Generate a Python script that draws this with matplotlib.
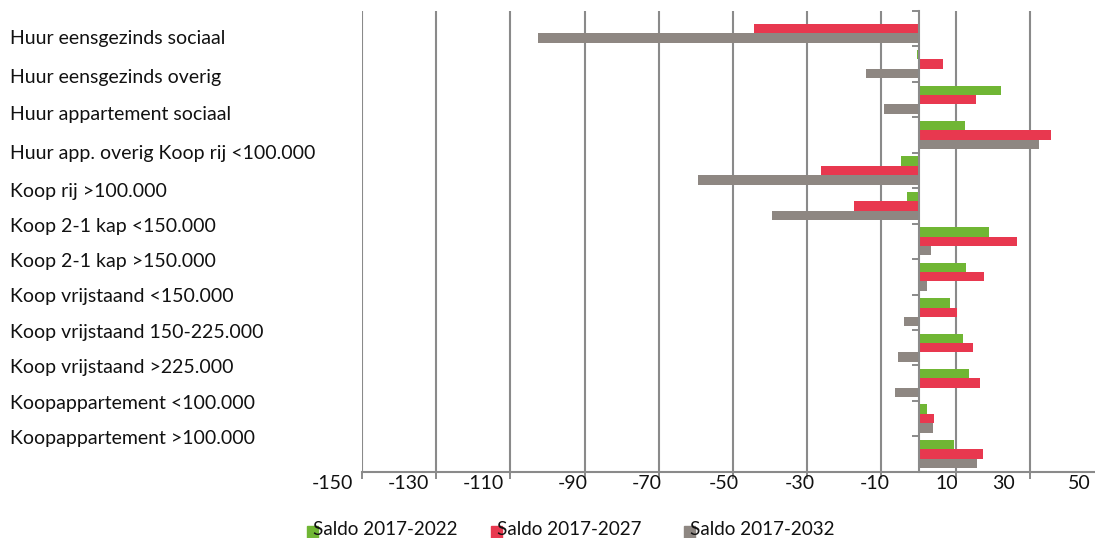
import numpy as np
import matplotlib.pyplot as plt
from matplotlib.transforms import blended_transform_factory
from matplotlib.patches import Rectangle

plt.rcParams['font.family'] = ['Lato', 'DejaVu Sans']

# 13 woningtypes (de labels in het origineel zijn 12 regels, één regel is samengevoegd)
labels = ["Huur eensgezinds sociaal", "Huur eensgezinds overig", "Huur appartement sociaal",
          "Huur app. overig Koop rij <100.000", "Koop rij >100.000", "Koop 2-1 kap <150.000",
          "Koop 2-1 kap >150.000", "Koop vrijstaand <150.000", "Koop vrijstaand 150-225.000",
          "Koop vrijstaand >225.000", "Koopappartement <100.000", "Koopappartement >100.000"]

saldo_2022 = [0.5, -0.3, 22.3, 12.6, -4.7, -3.0, 19.0, 12.7, 8.5, 12.0, 13.6, 2.4, 9.7]
saldo_2027 = [-44.4, 6.7, 15.4, 35.6, -26.4, -17.5, 26.5, 17.6, 10.5, 14.7, 16.7, 4.1, 17.3]
saldo_2032 = [-102.6, -14.1, -9.2, 32.4, -59.3, -39.5, 3.4, 2.3, -3.9, -5.5, -6.3, 3.9, 15.8]

series = ["Saldo 2017-2022", "Saldo 2017-2027", "Saldo 2017-2032"]
colors = ["#70B634", "#E8384F", "#8E8782"]
tick_vals = [-150, -130, -110, -90, -70, -50, -30, -10, 10, 30, 50]

# layout (positie van de tekst zoals in het origineel)
label_base = [0.92, 2.04, 3.08, 4.18, 5.24, 6.245, 7.23, 8.22, 9.23, 10.22, 11.23, 12.22]
tick_text_x = [-158, -137.6, -117.4, -93.3, -73.2, -52.6, -32, -11.9, 7.7, 22.8, 43.3]

W, H = 1095, 538
fig = plt.figure(figsize=(W / 100, H / 100), dpi=100)
x0, x1 = -150, 50
left_px, top_px, bot_px = 362, 11, 471.7
right_px = left_px + (x1 - x0) * 3.71
ax = fig.add_axes([left_px / W, 1 - bot_px / H, (right_px - left_px) / W, (bot_px - top_px) / H])

n = len(saldo_2022)
yc = np.arange(n) + 0.5
bh = 0.265
grid_c = "#8A8A8A"
for k, (vals, c) in enumerate(zip([saldo_2022, saldo_2027, saldo_2032], colors)):
    ax.barh(yc + (k - 1) * bh, vals, height=bh, color=c, zorder=3)

ax.set_xlim(x0, x1)
ax.set_ylim(n, 0)

ax.set_xticks(np.arange(-150, 31, 20))
ax.set_xticklabels([])
ax.tick_params(axis='x', length=5, width=1.4, color=grid_c, direction='out')
ax.grid(axis='x', color=grid_c, linewidth=1.5, zorder=0)

ax.spines['left'].set_position(('data', 0))
ax.spines['left'].set_color(grid_c)
ax.spines['left'].set_linewidth(1.5)
ax.spines['left'].set_zorder(4)
ax.spines['bottom'].set_color(grid_c)
ax.spines['bottom'].set_linewidth(1.5)
ax.spines['top'].set_visible(False)
ax.spines['right'].set_visible(False)
ax.set_yticks(np.arange(n))
ax.set_yticklabels([])
ax.tick_params(axis='y', length=5, width=1.4, color=grid_c, direction='out')

fs = 14
tr_y = blended_transform_factory(fig.transFigure, ax.transData)
for lab, yb in zip(labels, label_base):
    ax.text(10 / W, yb, lab, transform=tr_y, ha='left', va='baseline', fontsize=fs, color='#111111')

tr_x = blended_transform_factory(ax.transData, fig.transFigure)
for v, xp in zip(tick_vals, tick_text_x):
    ax.text(xp, 1 - 489 / H, str(v), transform=tr_x, ha='center', va='baseline', fontsize=fs,
            color='#111111', clip_on=False)

# legenda
leg_x = [313, 497, 690]
for name, c, lx in zip(series, colors, leg_x):
    fig.patches.append(Rectangle(((lx - 6) / W, 1 - 538 / H), 11 / W, 12 / H,
                                 transform=fig.transFigure, color=c, zorder=1))
    fig.text(lx / W, 1 - 535 / H, name, ha='left', va='baseline', fontsize=13.6,
             color='#111111', zorder=2)

fig.savefig("out.png", dpi=100)
